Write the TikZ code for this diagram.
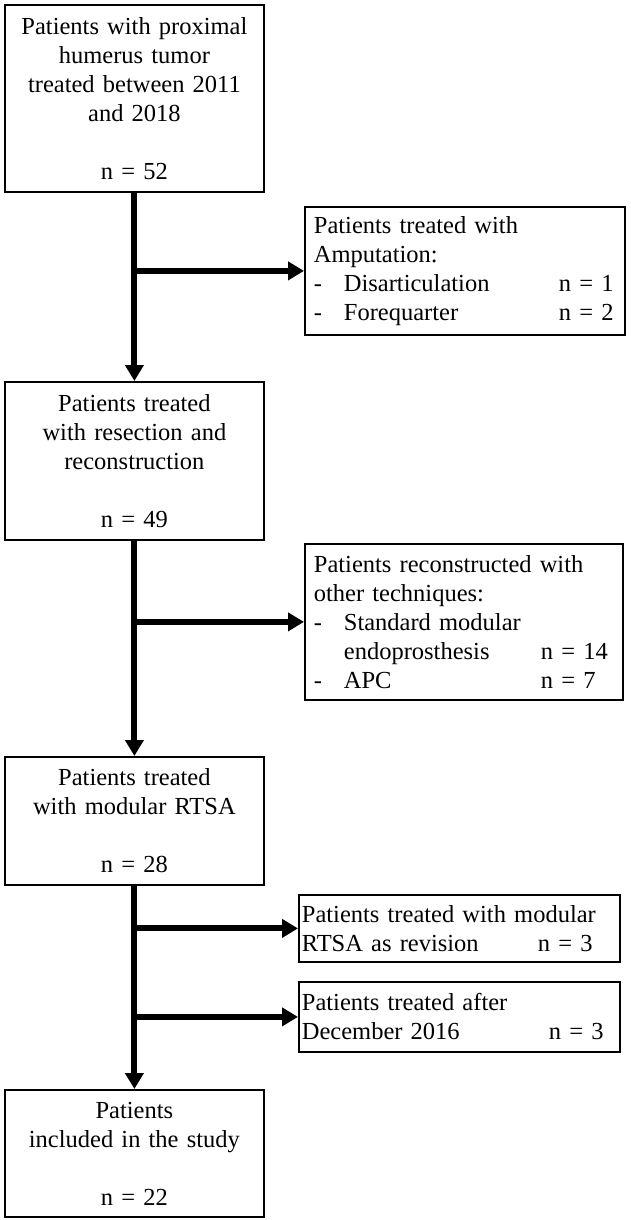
\documentclass[tikz,border=0pt]{standalone}
\usepackage{fontspec}
\setmainfont{Liberation Serif}
\usetikzlibrary{positioning,arrows.meta}

\tikzset{
  mainbox/.style={draw, line width=1.8pt, anchor=north west, minimum width=259pt,
    text width=250pt, align=center, inner sep=0pt, font=\fontsize{24.5}{29}\selectfont},
  sidebox/.style={draw, line width=1.8pt, anchor=north west, align=left,
    inner ysep=0pt, font=\fontsize{24.5}{29}\selectfont},
  flow/.style={line width=6pt, -{Triangle[length=16pt,width=18pt]}},
  trunk/.style={line width=6pt}
}

\begin{document}
\begin{tikzpicture}[x=1pt,y=-1pt]
    \useasboundingbox (0,0) rectangle (631,1220);

    % main column
    \node[mainbox, minimum height=187pt] (all) at (4,4)
      {Patients with proximal\\ humerus tumor\\ treated between 2011\\ and 2018\\[29pt] n = 52};
    \node[mainbox, minimum height=158pt] (resect) at (4,381)
      {Patients treated\\ with resection and\\ reconstruction\\[29pt] n = 49};
    \node[mainbox, minimum height=128pt] (rtsa) at (4,756)
      {Patients treated\\ with modular RTSA\\[29pt] n = 28};
    \node[mainbox, minimum height=127pt] (study) at (4,1089)
      {Patients\\ included in the study\\[29pt] n = 22};

    % excluded
    \node[sidebox, minimum width=320pt, minimum height=128pt, inner xsep=9pt, text width=302pt] (amput) at (304,206)
      {Patients treated with\\ Amputation:\\
       \makebox[30pt][l]{-}\makebox[215pt][l]{Disarticulation}n = 1\\
       \makebox[30pt][l]{-}\makebox[215pt][l]{Forequarter}n = 2};
    \node[sidebox, minimum width=318pt, minimum height=156pt, inner xsep=9pt, text width=300pt] (other) at (304,543)
      {Patients reconstructed with\\ other techniques:\\
       \makebox[30pt][l]{-}Standard modular\\
       \makebox[30pt][l]{}\makebox[197pt][l]{endoprosthesis}n = 14\\
       \makebox[30pt][l]{-}\makebox[197pt][l]{APC}n = 7};
    \node[sidebox, minimum width=321pt, minimum height=67pt, inner xsep=3pt, text width=315pt] (revis) at (298,894)
      {Patients treated with modular\\ \makebox[236pt][l]{RTSA as revision}n = 3};
    \node[sidebox, minimum width=321pt, minimum height=70pt, inner xsep=3pt, text width=315pt] (late) at (298,981)
      {Patients treated after\\ \makebox[247pt][l]{December 2016}n = 3};

    \coordinate (j1) at (all.south |- amput.west);
    \coordinate (j2) at (resect.south |- other.west);
    \coordinate (j3) at (rtsa.south |- revis.west);
    \coordinate (j4) at (rtsa.south |- late.west);

    \draw[flow] (all.south) -- (resect.north);
    \draw[flow] (resect.south) -- (rtsa.north);
    \draw[flow] (rtsa.south) -- (study.north);
    \draw[flow] (j1) -- (amput.west);
    \draw[flow] (j2) -- (other.west);
    \draw[flow] (j3) -- (revis.west);
    \draw[flow] (j4) -- (late.west);
\end{tikzpicture}
\end{document}
